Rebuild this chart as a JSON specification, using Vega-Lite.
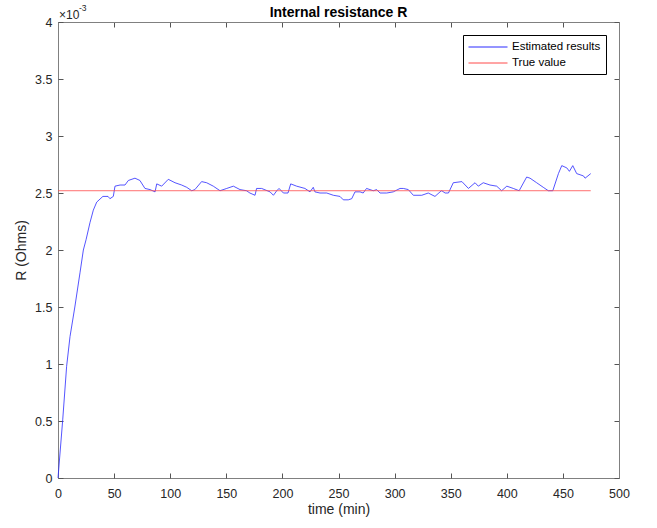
{
  "$schema": "https://vega.github.io/schema/vega-lite/v6.json",
  "width": 561,
  "height": 456,
  "autosize": {"type": "none"},
  "padding": {"left": 58, "top": 22, "right": 38, "bottom": 50},
  "background": "white",
  "config": {
    "font": "Liberation Sans",
    "view": {"stroke": null},
    "axis": {
      "grid": false,
      "domainColor": "#808080",
      "tickColor": "#555555",
      "tickSize": 5,
      "tickWidth": 1,
      "labelFontSize": 12.5,
      "labelColor": "#262626",
      "titleFontSize": 14,
      "titleFontWeight": "normal",
      "titleColor": "#262626",
      "labelFlush": false,
      "labelOverlap": false,
      "minExtent": 0
    }
  },
  "title": {"text": "Internal resistance R", "fontSize": 14, "fontWeight": "bold", "color": "#000000", "offset": -27.4, "baseline": "alphabetic", "anchor": "middle", "frame": "group"},
  "layer": [
    {
      "data": {"values": [
        {"series": "Estimated results", "time": 0, "R": 0},
        {"series": "Estimated results", "time": 4.2, "R": 0.00051},
        {"series": "Estimated results", "time": 7.7, "R": 0.00098},
        {"series": "Estimated results", "time": 10.7, "R": 0.00124},
        {"series": "Estimated results", "time": 15, "R": 0.0015},
        {"series": "Estimated results", "time": 19.6, "R": 0.0018},
        {"series": "Estimated results", "time": 22.6, "R": 0.002},
        {"series": "Estimated results", "time": 25, "R": 0.00209},
        {"series": "Estimated results", "time": 28.5, "R": 0.00224},
        {"series": "Estimated results", "time": 31.5, "R": 0.00235},
        {"series": "Estimated results", "time": 34.5, "R": 0.00242},
        {"series": "Estimated results", "time": 40, "R": 0.00247},
        {"series": "Estimated results", "time": 44.6, "R": 0.00247},
        {"series": "Estimated results", "time": 46.3, "R": 0.00245},
        {"series": "Estimated results", "time": 49.3, "R": 0.00247},
        {"series": "Estimated results", "time": 50.8, "R": 0.00256},
        {"series": "Estimated results", "time": 55.3, "R": 0.00257},
        {"series": "Estimated results", "time": 59.7, "R": 0.00257},
        {"series": "Estimated results", "time": 62.7, "R": 0.00261},
        {"series": "Estimated results", "time": 68.6, "R": 0.00263},
        {"series": "Estimated results", "time": 73, "R": 0.00261},
        {"series": "Estimated results", "time": 77.5, "R": 0.00254},
        {"series": "Estimated results", "time": 82, "R": 0.00253},
        {"series": "Estimated results", "time": 86.5, "R": 0.00251},
        {"series": "Estimated results", "time": 88, "R": 0.00258},
        {"series": "Estimated results", "time": 92.4, "R": 0.00256},
        {"series": "Estimated results", "time": 98.3, "R": 0.00262},
        {"series": "Estimated results", "time": 104.3, "R": 0.00259},
        {"series": "Estimated results", "time": 110.2, "R": 0.00257},
        {"series": "Estimated results", "time": 114.7, "R": 0.00255},
        {"series": "Estimated results", "time": 119.2, "R": 0.00252},
        {"series": "Estimated results", "time": 122, "R": 0.00253},
        {"series": "Estimated results", "time": 128, "R": 0.0026},
        {"series": "Estimated results", "time": 132.5, "R": 0.00259},
        {"series": "Estimated results", "time": 138.4, "R": 0.00256},
        {"series": "Estimated results", "time": 144.4, "R": 0.00252},
        {"series": "Estimated results", "time": 150.4, "R": 0.00254},
        {"series": "Estimated results", "time": 156.3, "R": 0.00256},
        {"series": "Estimated results", "time": 162.2, "R": 0.00253},
        {"series": "Estimated results", "time": 168, "R": 0.00252},
        {"series": "Estimated results", "time": 171, "R": 0.0025},
        {"series": "Estimated results", "time": 175.6, "R": 0.00248},
        {"series": "Estimated results", "time": 177, "R": 0.00254},
        {"series": "Estimated results", "time": 181.5, "R": 0.00254},
        {"series": "Estimated results", "time": 189, "R": 0.00251},
        {"series": "Estimated results", "time": 192, "R": 0.00248},
        {"series": "Estimated results", "time": 195, "R": 0.00252},
        {"series": "Estimated results", "time": 197, "R": 0.00254},
        {"series": "Estimated results", "time": 200.9, "R": 0.0025},
        {"series": "Estimated results", "time": 205, "R": 0.0025},
        {"series": "Estimated results", "time": 207.4, "R": 0.00258},
        {"series": "Estimated results", "time": 212.7, "R": 0.00256},
        {"series": "Estimated results", "time": 220.1, "R": 0.00254},
        {"series": "Estimated results", "time": 224.6, "R": 0.00251},
        {"series": "Estimated results", "time": 227.5, "R": 0.00255},
        {"series": "Estimated results", "time": 229, "R": 0.00251},
        {"series": "Estimated results", "time": 233.5, "R": 0.0025},
        {"series": "Estimated results", "time": 239.5, "R": 0.0025},
        {"series": "Estimated results", "time": 245.4, "R": 0.00248},
        {"series": "Estimated results", "time": 251.3, "R": 0.00247},
        {"series": "Estimated results", "time": 254.3, "R": 0.00244},
        {"series": "Estimated results", "time": 258.7, "R": 0.00244},
        {"series": "Estimated results", "time": 261.8, "R": 0.00245},
        {"series": "Estimated results", "time": 264.7, "R": 0.00251},
        {"series": "Estimated results", "time": 269.2, "R": 0.00251},
        {"series": "Estimated results", "time": 272, "R": 0.0025},
        {"series": "Estimated results", "time": 275, "R": 0.00254},
        {"series": "Estimated results", "time": 281, "R": 0.00252},
        {"series": "Estimated results", "time": 284, "R": 0.00253},
        {"series": "Estimated results", "time": 287, "R": 0.0025},
        {"series": "Estimated results", "time": 293, "R": 0.0025},
        {"series": "Estimated results", "time": 298.8, "R": 0.00251},
        {"series": "Estimated results", "time": 304.8, "R": 0.00254},
        {"series": "Estimated results", "time": 307.8, "R": 0.00254},
        {"series": "Estimated results", "time": 312.2, "R": 0.00253},
        {"series": "Estimated results", "time": 316.7, "R": 0.00248},
        {"series": "Estimated results", "time": 324.2, "R": 0.00248},
        {"series": "Estimated results", "time": 330, "R": 0.0025},
        {"series": "Estimated results", "time": 336, "R": 0.00247},
        {"series": "Estimated results", "time": 340.5, "R": 0.00251},
        {"series": "Estimated results", "time": 342, "R": 0.00252},
        {"series": "Estimated results", "time": 345, "R": 0.0025},
        {"series": "Estimated results", "time": 348, "R": 0.0025},
        {"series": "Estimated results", "time": 352.3, "R": 0.00259},
        {"series": "Estimated results", "time": 360, "R": 0.0026},
        {"series": "Estimated results", "time": 365.8, "R": 0.00254},
        {"series": "Estimated results", "time": 371.7, "R": 0.00259},
        {"series": "Estimated results", "time": 374.6, "R": 0.00256},
        {"series": "Estimated results", "time": 379, "R": 0.00259},
        {"series": "Estimated results", "time": 385, "R": 0.00257},
        {"series": "Estimated results", "time": 391, "R": 0.00256},
        {"series": "Estimated results", "time": 395.4, "R": 0.00252},
        {"series": "Estimated results", "time": 400, "R": 0.00256},
        {"series": "Estimated results", "time": 405.8, "R": 0.00254},
        {"series": "Estimated results", "time": 411, "R": 0.00252},
        {"series": "Estimated results", "time": 417.7, "R": 0.00264},
        {"series": "Estimated results", "time": 420.7, "R": 0.00263},
        {"series": "Estimated results", "time": 426.6, "R": 0.00259},
        {"series": "Estimated results", "time": 432.5, "R": 0.00255},
        {"series": "Estimated results", "time": 437, "R": 0.00252},
        {"series": "Estimated results", "time": 441, "R": 0.00252},
        {"series": "Estimated results", "time": 446, "R": 0.00267},
        {"series": "Estimated results", "time": 449, "R": 0.00274},
        {"series": "Estimated results", "time": 453.5, "R": 0.00272},
        {"series": "Estimated results", "time": 455.8, "R": 0.00269},
        {"series": "Estimated results", "time": 458.8, "R": 0.00274},
        {"series": "Estimated results", "time": 462.3, "R": 0.00267},
        {"series": "Estimated results", "time": 468.3, "R": 0.00265},
        {"series": "Estimated results", "time": 469.8, "R": 0.00263},
        {"series": "Estimated results", "time": 474.8, "R": 0.00267},
        {"series": "True value", "time": 0, "R": 0.00252},
        {"series": "True value", "time": 474.8, "R": 0.00252}
      ]},
      "mark": {"type": "line", "strokeWidth": 0.8},
      "encoding": {
        "x": {"field": "time", "type": "quantitative", "scale": {"domain": [0, 500], "nice": false},
              "axis": {"orient": "bottom", "values": [0, 50, 100, 150, 200, 250, 300, 350, 400, 450, 500], "ticks": false, "labelPadding": 9, "title": "time (min)", "titlePadding": 3}},
        "y": {"field": "R", "type": "quantitative", "scale": {"domain": [0, 0.004], "nice": false},
              "axis": {"orient": "left", "values": [0, 0.0005, 0.001, 0.0015, 0.002, 0.0025, 0.003, 0.0035, 0.004], "ticks": false, "labelExpr": "format(datum.value*1000, '.1~f')", "labelPadding": 6, "title": "R (Ohms)", "titlePadding": 6}},
        "color": {"field": "series", "type": "nominal",
                  "scale": {"domain": ["Estimated results", "True value"], "range": ["#2a2aff", "#ff4a4a"]},
                  "legend": {"orient": "top-right", "offset": 13, "title": null, "strokeColor": "#000000", "fillColor": "#ffffff", "padding": 5, "symbolType": "M-1,0H5", "symbolSize": 169, "symbolStrokeWidth": 1, "labelOffset": 30, "labelFontSize": 11.5, "labelColor": "#000000", "labelFont": "Liberation Sans", "rowPadding": 3}}
      }
    },
    {
      "data": {"values": [{"time": 0, "R": 0.004, "label": "×10"}]},
      "mark": {"type": "text", "align": "left", "baseline": "middle", "dx": 1, "dy": -7, "fontSize": 12, "color": "#262626"},
      "encoding": {
        "x": {"field": "time", "type": "quantitative", "axis": {"orient": "bottom", "offset": -456, "values": [0, 50, 100, 150, 200, 250, 300, 350, 400, 450, 500], "labels": false, "title": null}},
        "y": {"field": "R", "type": "quantitative", "axis": {"orient": "left", "offset": -561, "values": [0, 0.0005, 0.001, 0.0015, 0.002, 0.0025, 0.003, 0.0035, 0.004], "labels": false, "title": null}},
        "text": {"field": "label"}
      }
    },
    {
      "data": {"values": [{"time": 0, "R": 0.004, "label": "-3"}]},
      "mark": {"type": "text", "align": "left", "baseline": "middle", "dx": 21, "dy": -14, "fontSize": 8.5, "color": "#262626"},
      "encoding": {
        "x": {"field": "time", "type": "quantitative", "axis": {"orient": "top", "offset": -456, "domain": false, "values": [0, 50, 100, 150, 200, 250, 300, 350, 400, 450, 500], "labels": false, "title": null}},
        "y": {"field": "R", "type": "quantitative", "axis": {"orient": "right", "offset": -561, "domain": false, "values": [0, 0.0005, 0.001, 0.0015, 0.002, 0.0025, 0.003, 0.0035, 0.004], "labels": false, "title": null}},
        "text": {"field": "label"}
      }
    }
  ],
  "resolve": {"axis": {"x": "independent", "y": "independent"}}
}
